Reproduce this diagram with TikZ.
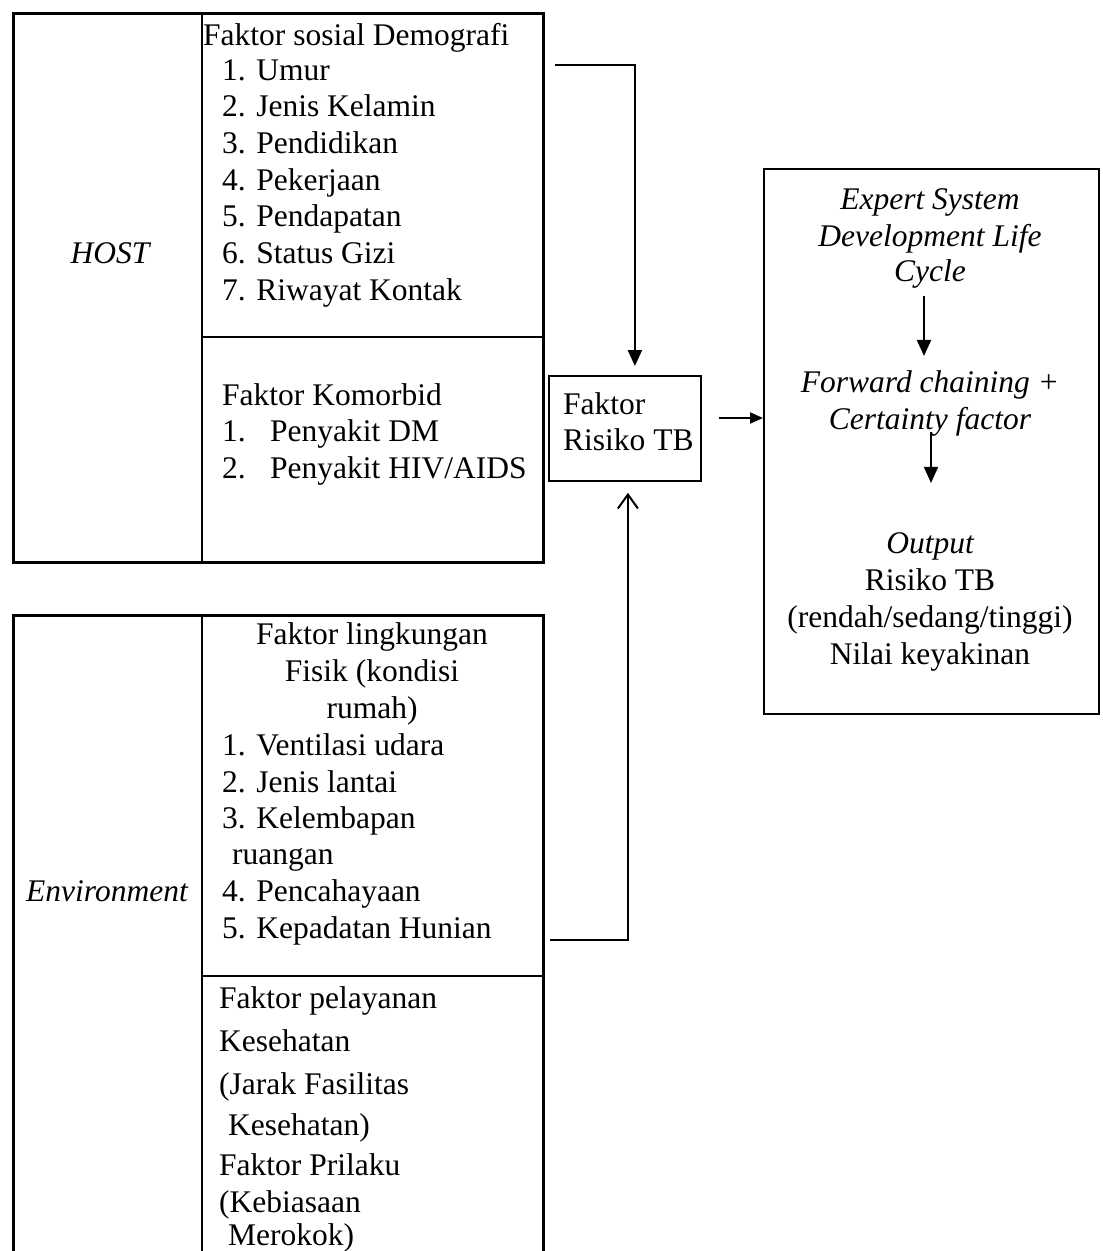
\documentclass[tikz,border=0pt]{standalone}
\usepackage{fontspec}
\setmainfont{Liberation Serif}
\usetikzlibrary{arrows.meta}
\newcommand\diagfont{\fontsize{31.5}{36}\selectfont}
\begin{document}
\begin{tikzpicture}[x=1pt,y=-1pt,
  txt/.style={font=\diagfont, inner sep=0pt, anchor=base west},
  ctxt/.style={font=\diagfont, inner sep=0pt, anchor=base},
  itxt/.style={font=\diagfont\itshape, inner sep=0pt, anchor=base},
  frame/.style={draw, line width=2.6pt, inner sep=0pt, anchor=north west},
  rule/.style={line width=2.6pt},
  box/.style={draw, line width=1.8pt, inner sep=0pt, anchor=north west},
  link/.style={line width=2pt},
  solidhead/.style={link, -{Triangle[length=16pt,width=14pt]}},
  smallhead/.style={link, -{Triangle[length=13pt,width=11pt]}},
  openhead/.style={link, -{Straight Barb[length=14pt,width=20pt]}},
]
\clip (0,0) rectangle (1103,1251);
\fill[white] (0,0) rectangle (1103,1251);

% column and row positions of the two tables
\coordinate (col) at (202,0);
\coordinate (hostrow) at (0,337);
\coordinate (envrow) at (0,976);

% HOST table
\node[frame, minimum width=530pt, minimum height=549pt] (host) at (12,12) {};
\draw[rule] (host.north -| col) -- (host.south -| col);
\draw[rule] (col |- hostrow) -- (host.east |- hostrow);

\node[itxt] (hostlbl) at (110,263) {HOST};
\node[txt] (sos) at (203,45) {Faktor sosial Demografi};
\node[txt] (s1) at (222,80)  {1. Umur};
\node[txt] (s2) at (222,116) {2. Jenis Kelamin};
\node[txt] (s3) at (222,153) {3. Pendidikan};
\node[txt] (s4) at (222,190) {4. Pekerjaan};
\node[txt] (s5) at (222,226) {5. Pendapatan};
\node[txt] (s6) at (222,263) {6. Status Gizi};
\node[txt] (s7) at (222,300) {7. Riwayat Kontak};

\node[txt] (kom) at (222,405) {Faktor Komorbid};
\node[txt] (k1n) at (222,441) {1.};
\node[txt] (k1) at (270,441) {Penyakit DM};
\node[txt] (k2n) at (222,478) {2.};
\node[txt] (k2) at (270,478) {Penyakit HIV/AIDS};

% Environment table
\node[frame, minimum width=530pt, minimum height=680pt] (env) at (12,614) {};
\draw[rule] (env.north -| col) -- (env.south -| col);
\draw[rule] (col |- envrow) -- (env.east |- envrow);

\node[itxt] (envlbl) at (107,901) {Environment};
\node[ctxt] (l1) at (372,644) {Faktor lingkungan};
\node[ctxt] (l2) at (372,681) {Fisik (kondisi};
\node[ctxt] (l3) at (372,718) {rumah)};
\node[txt] (e1) at (222,755) {1. Ventilasi udara};
\node[txt] (e2) at (222,792) {2. Jenis lantai};
\node[txt] (e3) at (222,828) {3. Kelembapan};
\node[txt] (e3b) at (232,864) {ruangan};
\node[txt] (e4) at (222,901) {4. Pencahayaan};
\node[txt] (e5) at (222,938) {5. Kepadatan Hunian};

\node[txt] (p1) at (219,1008) {Faktor pelayanan};
\node[txt] (p2) at (219,1051) {Kesehatan};
\node[txt] (p3) at (219,1094) {(Jarak Fasilitas};
\node[txt] (p4) at (228,1135) {Kesehatan)};
\node[txt] (p5) at (219,1175) {Faktor Prilaku};
\node[txt] (p6) at (219,1212) {(Kebiasaan};
\node[txt] (p7) at (228,1245) {Merokok)};

% risk factor box
\node[box, minimum width=152pt, minimum height=105pt] (risk) at (548,375) {};
\node[txt] (r1) at (563,414) {Faktor};
\node[txt] (r2) at (563,450) {Risiko TB};

% expert system box
\node[box, minimum width=335pt, minimum height=545pt] (esdlc) at (763,168) {};
\node[itxt] (x1) at (930,209) {Expert System};
\node[itxt] (x2) at (930,246) {Development Life};
\node[itxt] (x3) at (930,281) {Cycle};
\node[itxt] (m1) at (930,392) {Forward chaining +};
\node[itxt] (m2) at (930,429) {Certainty factor};
\node[itxt] (o1) at (930,553) {Output};
\node[ctxt] (o2) at (930,590) {Risiko TB};
\node[ctxt] (o3) at (930,627) {(rendah/sedang/tinggi)};
\node[ctxt] (o4) at (930,664) {Nilai keyakinan};

% connectors
\coordinate (hostout) at (555,65);
\coordinate (envout) at (550,940);
\coordinate (riskout) at (719,418);
\draw[solidhead, line width=2.3pt] (hostout) -| ([xshift=10pt]risk.north) [shorten >=9pt];
\draw[openhead] (envout) -| ([xshift=3pt]risk.south) [shorten >=11pt];
\draw[smallhead] (riskout) -- (riskout -| esdlc.west);
\draw[solidhead] ([xshift=-6pt,yshift=-8pt]x3.south) -- ([xshift=-6pt,yshift=14pt]m1.north);
\draw[solidhead, line width=1.6pt] ([xshift=1pt,yshift=4pt]m2.south) -- ([xshift=1pt,yshift=49pt]o1.north);
\end{tikzpicture}
\end{document}
